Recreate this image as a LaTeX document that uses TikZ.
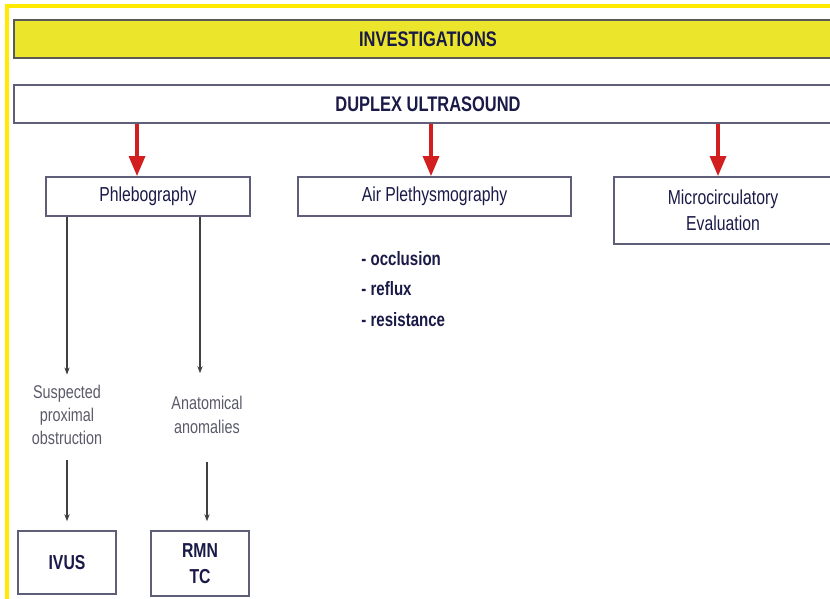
\documentclass[tikz,border=0pt]{standalone}
\usepackage{fontspec}
\setmainfont{Liberation Sans}
\newfontfamily\narrowfont[FakeStretch=0.78]{Liberation Sans}
\usetikzlibrary{arrows.meta}
\definecolor{ink}{HTML}{1A1A48}
\definecolor{boxline}{HTML}{5E5E78}
\definecolor{barfill}{HTML}{EBE62C}
\definecolor{pageline}{HTML}{FFEA00}
\definecolor{redarrow}{HTML}{D21E1E}
\definecolor{graytext}{HTML}{5A5A6A}
\begin{document}
\begin{tikzpicture}[x=0.02cm, y=-0.02cm,
	box/.style={draw=boxline, line width=0.9pt, fill=white, text=ink, inner sep=0pt,
		align=center, font=\narrowfont\fontsize{11.5}{14.5}\selectfont},
	headbox/.style={box, font=\narrowfont\bfseries\fontsize{12}{14}\selectfont},
	smallbox/.style={box, font=\narrowfont\bfseries\fontsize{11.5}{14.5}\selectfont},
	note/.style={text=graytext, align=center, inner sep=0pt,
		font=\narrowfont\fontsize{10.5}{13.3}\selectfont},
	bigarrow/.style={draw=redarrow, line width=2.2pt, -{Triangle[length=11.5pt, width=9pt]}},
	thinarrow/.style={draw=black!75, line width=0.6pt, -{Stealth[length=4pt, width=3pt]}}]

	\useasboundingbox (0,0) rectangle (830,598);
	\clip (0,0) rectangle (830,598);

	%page frame
	\draw[pageline, line width=2pt] (7,600) -- (7,6) -- (840,6);

	%top bars
	\node[headbox, fill=barfill, draw=black!65, minimum width=16.56cm, minimum height=0.76cm]
		(invest) at (428,39) {INVESTIGATIONS};
	\node[headbox, minimum width=16.56cm, minimum height=0.76cm]
		(duplex) at (428,104) {DUPLEX ULTRASOUND};

	%second row
	\node[box, minimum width=4.08cm, minimum height=0.78cm] (phleb) at (148,196.5) {Phlebography};
	\node[box, minimum width=5.46cm, minimum height=0.78cm] (air) at (434.5,196.5) {Air Plethysmography};
	\node[box, minimum width=4.36cm, minimum height=1.34cm] (micro) at (723,210.5)
		{Microcirculatory\\Evaluation};

	\foreach \b/\dx in {phleb/-0.22, air/-0.07, micro/-0.1}
		\draw[bigarrow] ([xshift=\dx cm]\b.north |- duplex.south) -- ([xshift=\dx cm]\b.north);

	%air list
	\node[text=ink, align=left, anchor=west, inner sep=0pt,
		font=\narrowfont\bfseries\fontsize{11}{17.2}\selectfont]
		(airlist) at (361,289) {- occlusion\\- reflux\\- resistance};

	%phlebography branches
	\node[note] (susp) at (67,415) {Suspected\\proximal\\obstruction};
	\node[note] (anat) at (207,415) {Anatomical\\anomalies};

	\node[smallbox, minimum width=1.96cm, minimum height=1.26cm] (ivus) at (67,562.5) {IVUS};
	\node[smallbox, minimum width=1.96cm, minimum height=1.30cm] (rmn) at (200,563.5) {RMN\\TC};

	\draw[thinarrow] (phleb.south -| susp) -- ([yshift=0.2cm]susp.north);
	\draw[thinarrow] ([xshift=-0.14cm]phleb.south -| anat) -- ([xshift=-0.14cm, yshift=0.46cm]anat.north);
	\draw[thinarrow] ([yshift=-0.3cm]susp.south) -- ([yshift=0.18cm]ivus.north);
	\draw[thinarrow] ([yshift=-0.56cm]anat.south) -- ([yshift=0.18cm]rmn.north -| anat);
\end{tikzpicture}
\end{document}
